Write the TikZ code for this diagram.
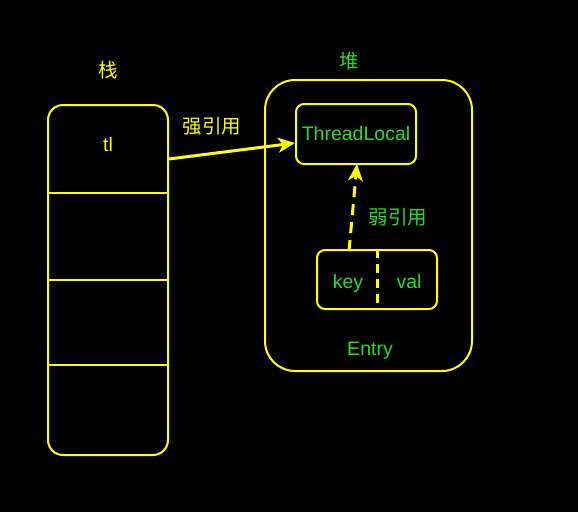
\documentclass[tikz,border=0pt]{standalone}
\usepackage{fontspec}
\setmainfont{Liberation Sans}
\newfontfamily\cjk{Noto Sans CJK SC}
\usetikzlibrary{arrows.meta}
\definecolor{hiyellow}{RGB}{255,255,0}
\definecolor{higreen}{RGB}{40,222,40}

\begin{document}
\begin{tikzpicture}[x=1pt,y=-1pt,
    frame/.style={draw=hiyellow, line width=2pt},
    ytext/.style={text=hiyellow, font=\fontsize{19.5}{22}\selectfont},
    gtext/.style={text=higreen, font=\fontsize{19.5}{22}\selectfont},
    ref/.style={draw=hiyellow, line width=3pt, -{Stealth[length=17pt,width=15pt,inset=5pt]}}]
    \fill[black] (0,0) rectangle (578,512);
    % stack
    \node[frame, rounded corners=15pt, minimum width=120pt, minimum height=350pt] (stack) at (108,280) {};
    \node[ytext] (stacklabel) at (108,70) {\cjk 栈};
    \node[ytext] (tl) at (108,145) {tl};
    \coordinate (s1l) at (48,193); \coordinate (s1r) at (168,193);
    \coordinate (s2l) at (48,280); \coordinate (s2r) at (168,280);
    \coordinate (s3l) at (48,365); \coordinate (s3r) at (168,365);
    \draw[frame, line width=2.5pt] (s1l) -- (s1r);
    \draw[frame] (s2l) -- (s2r);
    \draw[frame] (s3l) -- (s3r);
    % heap
    \node[frame, rounded corners=30pt, minimum width=207pt, minimum height=291pt] (heap) at (368.5,225.5) {};
    \node[gtext] (heaplabel) at (349,61) {\cjk 堆};
    \node[frame, rounded corners=8pt, minimum width=120pt, minimum height=60pt, gtext] (threadlocal) at (356,134) {ThreadLocal};
    \node[frame, rounded corners=8pt, minimum width=120pt, minimum height=59pt] (entry) at (377,279.5) {};
    \node[gtext, anchor=base] (key) at (348,288) {key};
    \node[gtext, anchor=base] (val) at (409,288) {val};
    \draw[frame, dash pattern=on 9pt off 6pt, line width=3pt] (entry.north) -- (entry.south);
    \node[gtext] (entrylabel) at (370,351) {Entry};
    % references
    \coordinate (strongstart) at (169,159);
    \draw[ref] (strongstart) -- (threadlocal.west |- 0,143);
    \node[ytext] (strong) at (212,126) {\cjk 强引用};
    \coordinate (weakstart) at (349,251);
    \draw[ref, dash pattern=on 11pt off 7pt] (weakstart) -- (357,164);
    \node[gtext] (weak) at (398,217) {\cjk 弱引用};
\end{tikzpicture}
\end{document}
